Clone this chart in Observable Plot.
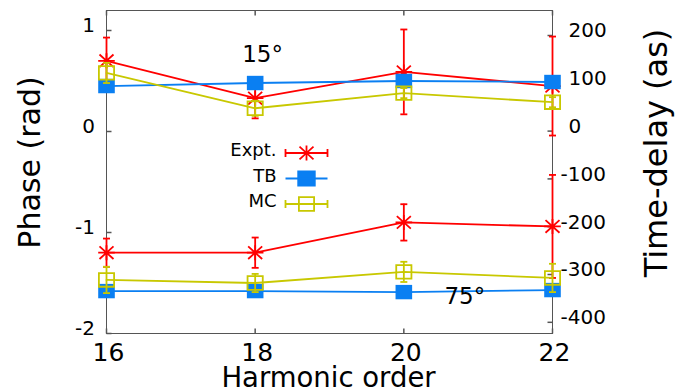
<!DOCTYPE html>
<html>
<head>
<meta charset="utf-8">
<script src="https://cdn.jsdelivr.net/npm/d3@7"></script>
<script src="https://cdn.jsdelivr.net/npm/@observablehq/plot@0.6"></script>
<style>
  html, body { margin: 0; padding: 0; background: #fff; }
  #chart { width: 675px; height: 390px; }
</style>
</head>
<body>
<div id="chart"></div>
<script>
// Harmonic orders
const harmonics = [16, 18, 20, 22];

// 15° series: phase (rad) and error half-widths
const expt15 = [0.70, 0.33, 0.59, 0.45];
const expt15Err = [0.23, 0.20, 0.42, 0.49];
const tb15 = [0.45, 0.48, 0.50, 0.49];
const mc15 = [0.58, 0.23, 0.38, 0.29];
const mc15Err = [0.10, 0.075, 0.05, 0.05];

// 75° series
const expt75 = [-1.20, -1.20, -0.90, -0.94];
const expt75Err = [0.14, 0.15, 0.18, 0.51];
const tb75 = [-1.58, -1.58, -1.59, -1.57];
const mc75 = [-1.47, -1.50, -1.39, -1.45];
const mc75Err = [0.13, 0.09, 0.10, 0.14];

// Axis ticks
const harmonicTicks = [16, 18, 20, 22];
const phaseTicks = [1, 0, -1, -2];
const delayTicks = [200, 100, 0, -100, -200, -300, -400];

// Legend entries
const seriesNames = ["Expt.", "TB", "MC"];

const RED = "#ff0000", BLUE = "#0a7ff2", YELLOW = "#c8c800";

// The time-delay axis on the right shares the vertical pixel range of the phase axis
const phaseDomain = [-2, 1.198];
const delayToPhase = d3.scaleLinear().domain([-423.4, 252.3]).range(phaseDomain);

const rows = (ys, errs) => harmonics.map((h, i) => ({
  h, y: ys[i],
  lo: errs ? ys[i] - errs[i] : null,
  hi: errs ? ys[i] + errs[i] : null
}));

// Custom symbols (drawn in pixels)
const asterisk = {draw(c) {
  c.moveTo(-8.3, 0); c.lineTo(8.3, 0);
  c.moveTo(0, -7.5); c.lineTo(0, 7.5);
  c.moveTo(-7, -6.3); c.lineTo(7, 6.3);
  c.moveTo(-7, 6.3); c.lineTo(7, -6.3);
}};
const filledBox = {draw(c) { c.rect(-8.3, -7.2, 16.6, 14.4); }};
const openBox = {draw(c) { c.rect(-7.6, -6.8, 15.2, 13.6); }};
const cap = {draw(c) { c.moveTo(-3.5, 0); c.lineTo(3.5, 0); }};
const tickUp = {draw(c) { c.moveTo(0, 0); c.lineTo(0, -5); }};
const tickDown = {draw(c) { c.moveTo(0, 0); c.lineTo(0, 5); }};
const tickRight = {draw(c) { c.moveTo(0, 0); c.lineTo(5, 0); }};
const tickLeft = {draw(c) { c.moveTo(0, 0); c.lineTo(-5, 0); }};

// Legend sample: a short line with end caps and the series marker
const sample = (marker, caps) => ({draw(c) {
  c.moveTo(-21, 0); c.lineTo(21, 0);
  if (caps) { c.moveTo(-21, -4); c.lineTo(-21, 4); c.moveTo(21, -4); c.lineTo(21, 4); }
  marker.draw(c);
}});

function seriesMarks(data, color, symbol, opts) {
  const marks = [Plot.line(data, {x: "h", y: "y", stroke: color, strokeWidth: 1.8})];
  if (opts.err) {
    marks.push(
      Plot.ruleX(data, {x: "h", y1: "lo", y2: "hi", stroke: color, strokeWidth: 1.8}),
      Plot.dot(data, {x: "h", y: "lo", symbol: cap, stroke: color, fill: "none", strokeWidth: 1.8}),
      Plot.dot(data, {x: "h", y: "hi", symbol: cap, stroke: color, fill: "none", strokeWidth: 1.8})
    );
  }
  marks.push(Plot.dot(data, {x: "h", y: "y", symbol,
    fill: opts.filled ? color : "none", stroke: opts.filled ? "none" : color, strokeWidth: 1.8}));
  return marks;
}

const legendSymbols = [sample(asterisk, true), sample(filledBox, false), sample(openBox, true)];
const legendColors = [RED, BLUE, YELLOW];

const svg = Plot.plot({
  width: 675,
  height: 390,
  marginLeft: 106,
  marginRight: 123,
  marginTop: 10,
  marginBottom: 57,
  x: {domain: [16, 22], axis: null},
  y: {domain: phaseDomain, axis: null},
  style: {fontFamily: "DejaVu Sans", background: "#fff", color: "#000", overflow: "visible"},
  marks: [
    Plot.frame({stroke: "#555", strokeWidth: 1}),

    // inward tick marks
    Plot.dot(harmonicTicks, {x: d => d, frameAnchor: "bottom", symbol: tickUp, stroke: "#555", fill: "none"}),
    Plot.dot(harmonicTicks, {x: d => d, frameAnchor: "top", symbol: tickDown, stroke: "#555", fill: "none"}),
    Plot.dot(phaseTicks, {y: d => d, frameAnchor: "left", symbol: tickRight, stroke: "#555", fill: "none"}),
    Plot.dot(delayTicks, {y: d => delayToPhase(d), frameAnchor: "right", symbol: tickLeft, stroke: "#555", fill: "none"}),

    // tick labels
    Plot.text(harmonicTicks, {x: d => d, text: d => String(d), frameAnchor: "bottom", textAnchor: "middle",
      lineAnchor: "middle", dy: 19, dx: 2, fontSize: 25, fill: "#000", ariaLabel: "xlabels"}),
    Plot.text(phaseTicks, {y: d => d, text: d => (d < 0 ? "-" : "") + Math.abs(d), frameAnchor: "left",
      textAnchor: "end", lineAnchor: "middle", dx: -11.5, dy: -4.5, fontSize: 20, fill: "#000", ariaLabel: "ylabels"}),
    Plot.text(delayTicks.filter(d => d >= 0), {y: d => delayToPhase(d), text: d => String(d), frameAnchor: "right",
      textAnchor: "start", lineAnchor: "middle", dx: 16, dy: -4.5, fontSize: 20, fill: "#000", ariaLabel: "y2labels"}),
    Plot.text(delayTicks.filter(d => d < 0), {y: d => delayToPhase(d), text: d => "-" + Math.abs(d), frameAnchor: "right",
      textAnchor: "start", lineAnchor: "middle", dx: 8, dy: -4.5, fontSize: 20, fill: "#000", ariaLabel: "y2labels"}),

    // axis titles
    Plot.text(["Harmonic order"], {frameAnchor: "bottom", textAnchor: "middle", lineAnchor: "middle",
      dy: 45, dx: -1, fontSize: 27.5, fill: "#000", ariaLabel: "xtitle"}),
    Plot.text(["Phase (rad)"], {frameAnchor: "left", textAnchor: "middle", lineAnchor: "middle", rotate: -90,
      dx: -76, dy: -9.5, fontSize: 30, fill: "#000", ariaLabel: "ytitle"}),
    Plot.text(["Time-delay (as)"], {frameAnchor: "right", textAnchor: "middle", lineAnchor: "middle", rotate: -90,
      dx: 104, dy: -19, fontSize: 32, fill: "#000", ariaLabel: "y2title"}),

    // data series
    ...seriesMarks(rows(expt15, expt15Err), RED, asterisk, {err: true}),
    ...seriesMarks(rows(expt75, expt75Err), RED, asterisk, {err: true}),
    ...seriesMarks(rows(tb15), BLUE, filledBox, {filled: true}),
    ...seriesMarks(rows(tb75), BLUE, filledBox, {filled: true}),
    ...seriesMarks(rows(mc15, mc15Err), YELLOW, openBox, {err: true}),
    ...seriesMarks(rows(mc75, mc75Err), YELLOW, openBox, {err: true}),

    // angle annotations
    Plot.text(["15°"], {x: 18.1, y: 0.76, fontSize: 23, fill: "#000", lineAnchor: "middle", ariaLabel: "angles"}),
    Plot.text(["75°"], {x: 20.82, y: -1.634, fontSize: 23, fill: "#000", lineAnchor: "middle", ariaLabel: "angles"}),

    // legend
    ...seriesNames.map((name, i) => Plot.text([name], {frameAnchor: "top-left", dx: 170, dy: 140 + i * 25.5,
      textAnchor: "end", lineAnchor: "middle", fontSize: 18, fill: "#000", ariaLabel: "legend"})),
    ...seriesNames.map((name, i) => Plot.dot([name], {frameAnchor: "top-left", dx: 200, dy: 142.5 + i * 25.5,
      symbol: legendSymbols[i], stroke: legendColors[i], fill: i === 1 ? legendColors[i] : "none", strokeWidth: 1.8}))
  ]
});

// Widen glyphs of a labelled text group (sx along the text, sy across it)
function stretch(label, sx, sy) {
  d3.select(svg).selectAll(`g[aria-label="${label}"] text`).each(function() {
    const t = this.getAttribute("transform") || "";
    const x = +this.getAttribute("x") || 0, y = +this.getAttribute("y") || 0;
    this.removeAttribute("x"); this.removeAttribute("y");
    this.setAttribute("transform", `${t} translate(${x},${y}) scale(${sx},${sy})`);
  });
}
stretch("xlabels", 1.1, 1);
stretch("ylabels", 1.3, 1);
stretch("y2labels", 1.38, 1);
stretch("xtitle", 1.13, 1);
stretch("ytitle", 1, 1.2);
stretch("y2title", 1, 1.1);
stretch("angles", 1.1, 1);
stretch("legend", 1.18, 1);

document.getElementById("chart").appendChild(svg);
</script>
</body>
</html>
